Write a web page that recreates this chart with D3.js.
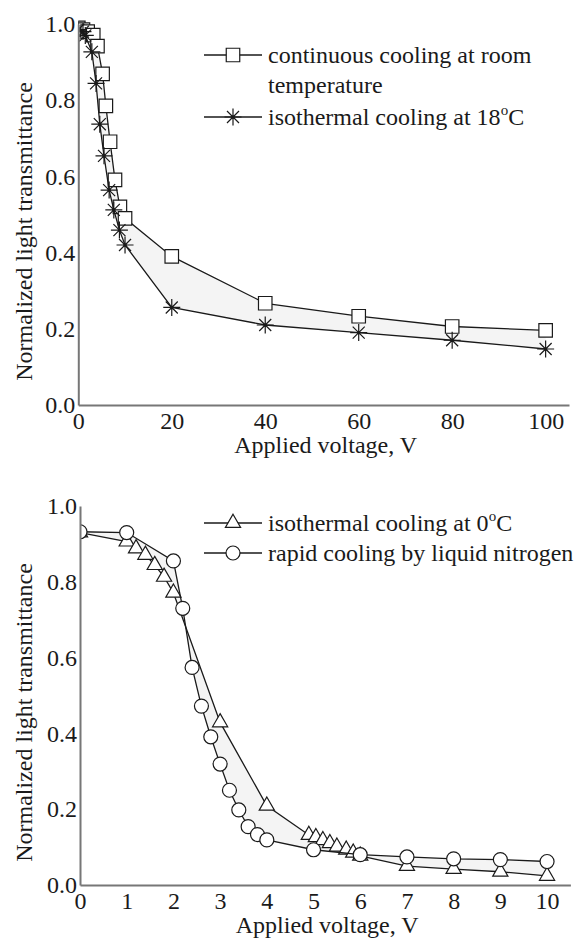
<!DOCTYPE html>
<html>
<head>
<meta charset="utf-8">
<script src="https://cdn.jsdelivr.net/npm/d3@7"></script>
<style>
  body { margin: 0; background: #fff; }
  svg text { font-family: "Liberation Serif", "Times New Roman", Tinos, "Nimbus Roman", "DejaVu Serif", "Noto Serif", serif; fill: #1a1a1a; }
</style>
</head>
<body>
<div id="chart"></div>
<script>
// ---- data ----

// upper panel: continuous cooling at room temperature (squares)
var squareVoltage = [0, 1, 2, 3.2, 4.1, 5.2, 5.9, 6.8, 7.85, 8.9, 10, 20, 40, 60, 80, 100];
var squareTrans = [0.99, 0.985, 0.98, 0.971, 0.942, 0.869, 0.785, 0.691, 0.591, 0.52, 0.49, 0.39, 0.267, 0.233, 0.206, 0.196];

// upper panel: isothermal cooling at 18 C (stars)
var starVoltage = [0, 1, 1.5, 2.9, 3.8, 4.6, 5.5, 6.6, 7.6, 8.8, 10, 20, 40, 60, 80, 100];
var starTrans = [0.985, 0.98, 0.97, 0.927, 0.844, 0.737, 0.654, 0.564, 0.512, 0.459, 0.42, 0.256, 0.21, 0.19, 0.17, 0.147];

// lower panel: isothermal cooling at 0 C (triangles)
var triangleVoltage = [0, 1, 1.2, 1.4, 1.6, 1.8, 2, 3, 4, 4.9, 5.05, 5.2, 5.35, 5.5, 5.7, 5.85, 6, 7, 8, 9, 10];
var triangleTrans = [0.93, 0.906, 0.888, 0.871, 0.844, 0.813, 0.771, 0.429, 0.209, 0.132, 0.126, 0.118, 0.11, 0.101, 0.093, 0.085, 0.077, 0.05, 0.042, 0.035, 0.024];

// lower panel: rapid cooling by liquid nitrogen (circles)
var circleVoltage = [0, 1, 2, 2.2, 2.4, 2.6, 2.8, 3, 3.2, 3.4, 3.6, 3.8, 4, 5, 6, 7, 8, 9, 10];
var circleTrans = [0.932, 0.93, 0.855, 0.73, 0.574, 0.472, 0.391, 0.319, 0.25, 0.198, 0.154, 0.133, 0.119, 0.093, 0.08, 0.074, 0.069, 0.067, 0.062];

// ticks
var topXTicks = [0, 20, 40, 60, 80, 100];
var bottomXTicks = [0, 1, 2, 3, 4, 5, 6, 7, 8, 9, 10];
var yTicks = [0, 0.2, 0.4, 0.6, 0.8, 1.0];

var xTitle = "Applied voltage, V";
var yTitle = "Normalized light transmittance";

var serif = "'Liberation Serif', 'Times New Roman', Tinos, 'Nimbus Roman', 'DejaVu Serif', 'Noto Serif', serif";

var svg = d3.select("#chart")
  .append("svg")
  .attr("width", 580)
  .attr("height", 944)
  .attr("font-family", serif);

var ink = "#1a1a1a";

// 8-spoke star marker
var starSymbol = {
  draw: function(context, size) {
    var r = Math.sqrt(size) / 2;
    var d = r * Math.SQRT1_2;
    context.moveTo(-r, 0); context.lineTo(r, 0);
    context.moveTo(0, -r); context.lineTo(0, r);
    context.moveTo(-d, -d); context.lineTo(d, d);
    context.moveTo(-d, d); context.lineTo(d, -d);
  }
};

function markerPath(kind) {
  if (kind === "square") return d3.symbol().type(d3.symbolSquare).size(13.5 * 13.5)();
  if (kind === "star") return d3.symbol().type(starSymbol).size(17 * 17)();
  if (kind === "triangle") return d3.symbol().type(d3.symbolTriangle).size(100)();
  return d3.symbol().type(d3.symbolCircle).size(Math.PI * 7 * 7)();
}

function drawMarker(g, kind, x, y) {
  g.append("path")
    .attr("d", markerPath(kind))
    .attr("transform", "translate(" + x + "," + y + ")")
    .attr("fill", kind === "star" ? "none" : "#fff")
    .attr("stroke", ink)
    .attr("stroke-width", 1.2);
  if (kind === "star") {
    g.append("circle").attr("cx", x).attr("cy", y).attr("r", 1.6).attr("fill", ink);
  }
}

function drawPanel(p) {
  var x = d3.scaleLinear().domain(p.xDomain).range([p.left, p.right]);
  var y = d3.scaleLinear().domain([0, 1]).range([p.bottom, p.top]);

  var clipId = "clip-" + p.name;
  svg.append("clipPath").attr("id", clipId)
    .append("rect")
    .attr("x", p.left).attr("y", 0)
    .attr("width", 580 - p.left).attr("height", p.bottom + 10);

  var plot = svg.append("g").attr("clip-path", "url(#" + clipId + ")");

  var a = d3.zip(p.series[0].v, p.series[0].t);
  var b = d3.zip(p.series[1].v, p.series[1].t);

  var line = d3.line()
    .x(function(d) { return x(d[0]); })
    .y(function(d) { return y(d[1]); });

  // light shading between the two curves
  plot.append("path")
    .attr("d", line(a.concat(b.slice().reverse())) + "Z")
    .attr("fill", "#f4f4f4")
    .attr("stroke", "none");

  p.series.forEach(function(s) {
    var pts = d3.zip(s.v, s.t);
    plot.append("path")
      .attr("d", line(pts))
      .attr("fill", "none")
      .attr("stroke", ink)
      .attr("stroke-width", 1.3);
    pts.forEach(function(d) { drawMarker(plot, s.marker, x(d[0]), y(d[1])); });
  });

  // axes: lines only, no tick marks
  var xAxis = svg.append("g")
    .attr("transform", "translate(0," + p.bottom + ")")
    .call(d3.axisBottom(x).tickValues(p.xTicks).tickSize(0).tickSizeOuter(0).tickPadding(7));
  var yAxis = svg.append("g")
    .attr("transform", "translate(" + p.left + ",0)")
    .call(d3.axisLeft(y).tickValues(yTicks).tickSize(0).tickSizeOuter(0).tickPadding(3).tickFormat(d3.format(".1f")));

  [xAxis, yAxis].forEach(function(ax) {
    ax.attr("font-size", 24).attr("font-family", serif);
    ax.select(".domain").attr("stroke", "#777").attr("stroke-width", 2);
    ax.selectAll("text").attr("fill", ink);
  });

  svg.append("text")
    .attr("x", (p.left + p.right) / 2 + 2)
    .attr("y", p.bottom + 48)
    .attr("text-anchor", "middle")
    .attr("font-size", 24)
    .text(xTitle);

  svg.append("text")
    .attr("transform", "translate(32," + ((p.top + p.bottom) / 2 + 17) + ") rotate(-90)")
    .attr("text-anchor", "middle")
    .attr("font-size", 24)
    .text(yTitle);

  // legend
  p.legend.forEach(function(item) {
    var g = svg.append("g");
    g.append("line")
      .attr("x1", 204).attr("x2", 262)
      .attr("y1", item.y).attr("y2", item.y)
      .attr("stroke", ink).attr("stroke-width", 1.3);
    drawMarker(g, item.marker, 233, item.y);
    var t = g.append("text")
      .attr("x", 268)
      .attr("y", item.y + 8)
      .attr("font-size", 24);
    t.append("tspan").text(item.text);
    if (item.sup) {
      t.append("tspan").attr("font-size", 15).attr("dy", -10).text(item.sup);
      t.append("tspan").attr("font-size", 24).attr("dy", 10).text(item.after);
    }
    if (item.second) {
      g.append("text")
        .attr("x", 268)
        .attr("y", item.y + 38)
        .attr("font-size", 24)
        .text(item.second);
    }
  });
}

drawPanel({
  name: "top",
  xDomain: [0, 105],
  left: 78.3, right: 569, top: 24, bottom: 405,
  xTicks: topXTicks,
  series: [
    { v: squareVoltage, t: squareTrans, marker: "square" },
    { v: starVoltage, t: starTrans, marker: "star" }
  ],
  legend: [
    { y: 55, marker: "square", text: "continuous cooling at room", second: "temperature" },
    { y: 117, marker: "star", text: "isothermal cooling at 18", sup: "o", after: "C" }
  ]
});

drawPanel({
  name: "bottom",
  xDomain: [0, 10.5],
  left: 80, right: 570.4, top: 506, bottom: 885,
  xTicks: bottomXTicks,
  series: [
    { v: triangleVoltage, t: triangleTrans, marker: "triangle" },
    { v: circleVoltage, t: circleTrans, marker: "circle" }
  ],
  legend: [
    { y: 523, marker: "triangle", text: "isothermal cooling at 0", sup: "o", after: "C" },
    { y: 553, marker: "circle", text: "rapid cooling by liquid nitrogen" }
  ]
});
</script>
</body>
</html>
